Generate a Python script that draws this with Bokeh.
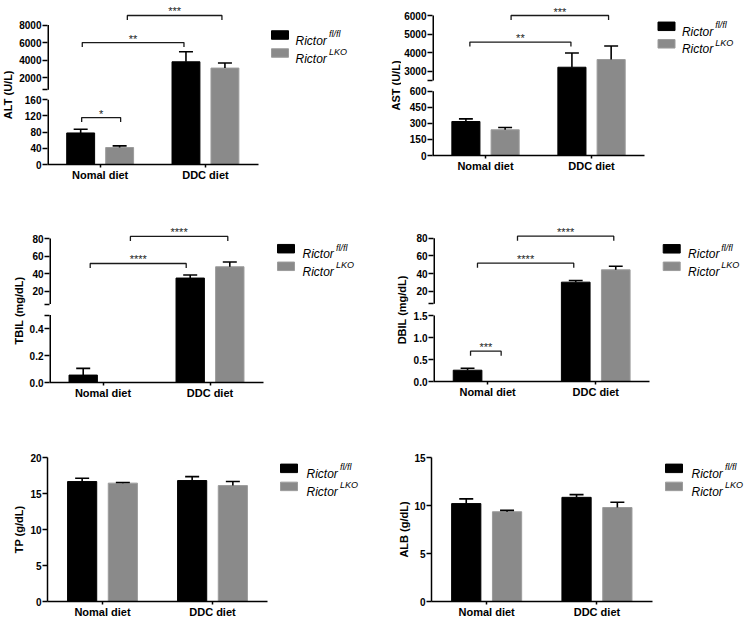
import math
from bokeh.plotting import figure
from bokeh.models import Range1d, FixedTicker, CustomJSTickFormatter, ColumnDataSource
from bokeh.layouts import row, column
from bokeh.embed import file_html
from bokeh.resources import INLINE
from bokeh.core.properties import value

FONT = "Liberation Sans"

# ---------------- data ----------------
groups = ["Nomal diet", "DDC diet"]
legend_base = "Rictor"
legend_sup = ["fl/fl", "LKO"]

alt_fl, alt_fl_err = [78, 3800], [9, 1150]
alt_lko, alt_lko_err = [42, 3080], [4, 575]
ast_fl, ast_fl_err = [317, 3215], [25, 765]
ast_lko, ast_lko_err = [240, 3630], [21, 725]
tbil_fl, tbil_fl_err = [0.055, 35.2], [0.05, 3.4]
tbil_lko, tbil_lko_err = [0.0, 48.0], [0.0, 5.3]
dbil_fl, dbil_fl_err = [0.257, 30.2], [0.045, 1.9]
dbil_lko, dbil_lko_err = [0.0, 44.2], [0.0, 4.1]
tp_fl, tp_fl_err = [16.66, 16.8], [0.46, 0.54]
tp_lko, tp_lko_err = [16.44, 16.1], [0.08, 0.56]
alb_fl, alb_fl_err = [10.2, 10.85], [0.49, 0.28]
alb_lko, alb_lko_err = [9.35, 9.79], [0.14, 0.55]

alt_ticks = [0, 40, 80, 120, 160, 2000, 4000, 6000, 8000]
alt_tick_labels = ["0", "40", "80", "120", "160", "2000", "4000", "6000", "8000"]
ast_ticks = [0, 150, 300, 450, 600, 3000, 4000, 5000, 6000]
ast_tick_labels = ["0", "150", "300", "450", "600", "3000", "4000", "5000", "6000"]
tbil_ticks = [0, 0.2, 0.4, 20, 40, 60, 80]
tbil_tick_labels = ["0.0", "0.2", "0.4", "20", "40", "60", "80"]
dbil_ticks = [0, 0.5, 1.0, 1.5, 20, 40, 60, 80]
dbil_tick_labels = ["0.0", "0.5", "1.0", "1.5", "20", "40", "60", "80"]
tp_ticks = [0, 5, 10, 15, 20]
tp_tick_labels = ["0", "5", "10", "15", "20"]
alb_ticks = [0, 5, 10, 15]
alb_tick_labels = ["0", "5", "10", "15"]

# significance brackets: (group_a, series_a, group_b, series_b, height value, label)
alt_sig = [(0, 0, 0, 1, 116, "*"), (0, 0, 1, 0, 6000, "**"), (0, 1, 1, 1, 9100, "***")]
ast_sig = [(0, 0, 1, 0, 4570, "**"), (0, 1, 1, 1, 6000, "***")]
tbil_sig = [(0, 0, 1, 0, 51.7, "****"), (0, 1, 1, 1, 82.3, "****")]
dbil_sig = [(0, 0, 0, 1, 0.69, "***"), (0, 0, 1, 0, 51.7, "****"), (0, 1, 1, 1, 82.3, "****")]

# ---------------- style / layout ----------------
BAR_FILL = ["#000000", "#8a8a8a"]
BAR_LINE = ["#000000", "#9c9c9c"]
OFF = 0.185
BAR_W = 0.265
CAP_PX = 7.0

panels = [
    dict(name="ALT (U/L)", fl=alt_fl, fle=alt_fl_err, lko=alt_lko, lkoe=alt_lko_err,
         ticks=alt_ticks, tlabels=alt_tick_labels, sig=alt_sig,
         nudge=[(1, 1), (1.6, -2), (7.7, -3)],
         brk=(160, 64.7, 10.0, 592, 8000, 64.7), ymax=None,
         left=0, top=0, LW=16, W=364, H=205, mbl=31, mbt=0, mbb=41, sp=105.3,
         lab_x=7.5, leg_x=271, leg_y=[34.5, 52.5], leg_tx=295),
    dict(name="AST (U/L)", fl=ast_fl, fle=ast_fl_err, lko=ast_lko, lkoe=ast_lko_err,
         ticks=ast_ticks, tlabels=ast_tick_labels, sig=ast_sig,
         nudge=[(4, -1), (6, -2.6)],
         brk=(600, 64.3, 10.7, 2500, 6000, 65.0), ymax=None,
         left=380, top=0, LW=21, W=345, H=205, mbl=29, mbt=0, mbb=50, sp=106.7,
         lab_x=395.0, leg_x=657, leg_y=[25.8, 43.3], leg_tx=681),
    dict(name="TBIL (mg/dL)", fl=tbil_fl, fle=tbil_fl_err, lko=tbil_lko, lkoe=tbil_lko_err,
         ticks=tbil_ticks, tlabels=tbil_tick_labels, sig=tbil_sig,
         nudge=[(7, -4), (7.6, -2)],
         brk=(0.5, 67.5, 10.9, 5.7, 80, 65.6), ymax=None,
         left=0, top=205, LW=26, W=354, H=210, mbl=23, mbt=0, mbb=33, sp=107.0,
         lab_x=18.3, leg_x=277, leg_y=[248.2, 265.8], leg_tx=302),
    dict(name="DBIL (mg/dL)", fl=dbil_fl, fle=dbil_fl_err, lko=dbil_lko, lkoe=dbil_lko_err,
         ticks=dbil_ticks, tlabels=dbil_tick_labels, sig=dbil_sig,
         nudge=[(3, -6.5), (10, -2), (10, -2)],
         brk=(1.5, 66.0, 11.7, 5.7, 80, 65.6), ymax=None,
         left=380, top=205, LW=30, W=336, H=210, mbl=20, mbt=0, mbb=34, sp=109.2,
         lab_x=401.7, leg_x=662, leg_y=[248.3, 265.8], leg_tx=687),
    dict(name="TP (g/dL)", fl=tp_fl, fle=tp_fl_err, lko=tp_lko, lkoe=tp_lko_err,
         ticks=tp_ticks, tlabels=tp_tick_labels, sig=[], nudge=[],
         brk=None, ymax=20,
         left=0, top=415, LW=27, W=353, H=205, mbl=20, mbt=42, mbb=17, sp=110.0,
         lab_x=18.7, leg_x=280, leg_y=[468, 486.3], leg_tx=306),
    dict(name="ALB (g/dL)", fl=alb_fl, fle=alb_fl_err, lko=alb_lko, lkoe=alb_lko_err,
         ticks=alb_ticks, tlabels=alb_tick_labels, sig=[], nudge=[],
         brk=None, ymax=15,
         left=380, top=415, LW=31, W=335, H=205, mbl=20, mbt=42, mbb=17, sp=110.3,
         lab_x=403.8, leg_x=665, leg_y=[468, 486.3], leg_tx=691),
]


def make_map(brk):
    if brk is None:
        return lambda v: v
    lo_top, lo_px, gap, hi0, hi_top, hi_px = brk

    def f(v):
        if v <= lo_top:
            return v * lo_px / lo_top
        if v >= hi0:
            return lo_px + gap + (v - hi0) * hi_px / (hi_top - hi0)
        return lo_px + gap * (v - lo_top) / (hi0 - lo_top)
    return f


def bar_x(g, s):
    return g + (-OFF if s == 0 else OFF)


def base_fig(W, H, xr, yr, mbl, mbt, mbb):
    p = figure(width=W, height=H, x_range=xr, y_range=yr,
               output_backend="svg", toolbar_location=None,
               min_border_left=mbl, min_border_right=0, min_border_top=mbt, min_border_bottom=mbb)
    p.outline_line_color = None
    p.xgrid.visible = False
    p.ygrid.visible = False
    p.background_fill_color = "white"
    p.border_fill_color = "white"
    return p


def make_panel(P):
    f = make_map(P["brk"])
    W, H, mbl, mbt, mbb, sp = P["W"], P["H"], P["mbl"], P["mbt"], P["mbb"], P["sp"]
    fw = W - mbl
    fh = H - mbt - mbb
    x_end = -0.5 + fw / sp
    if P["brk"] is None:
        ytop = P["ymax"]
        ppu = fh / ytop
    else:
        ytop = fh
        ppu = 1.0
    main_left = P["left"] + P["LW"]
    axis_x = main_left + mbl
    axis_y = P["top"] + mbt + fh

    def px_x(page_x):
        return -0.5 + (page_x - axis_x) / sp

    def px_y(page_y):
        return (axis_y - page_y) / ppu

    p = base_fig(W, H, Range1d(-0.5, x_end), Range1d(0, ytop), mbl, mbt, mbb)

    # bars
    xs, tops, fills, lines = [], [], [], []
    ex, et, eu = [], [], []
    for s, (means, errs) in enumerate([(P["fl"], P["fle"]), (P["lko"], P["lkoe"])]):
        for g in range(2):
            x = bar_x(g, s)
            xs.append(x)
            tops.append(f(means[g]))
            fills.append(BAR_FILL[s])
            lines.append(BAR_LINE[s])
            if errs[g] > 0:
                ex.append(x)
                et.append(f(means[g]))
                eu.append(f(means[g] + errs[g]))
    src = ColumnDataSource(dict(x=xs, top=tops, fill=fills, line=lines))
    p.vbar(x="x", top="top", bottom=0, width=BAR_W, fill_color="fill", line_color="line",
           line_width=1, source=src)
    hw = CAP_PX / sp
    esrc = ColumnDataSource(dict(x=ex, t=et, u=eu, xl=[v - hw for v in ex], xr=[v + hw for v in ex]))
    p.segment(x0="x", y0="t", x1="x", y1="u", line_color="black", line_width=1.6, source=esrc)
    p.segment(x0="xl", y0="u", x1="xr", y1="u", line_color="black", line_width=1.6, source=esrc)

    # significance brackets
    bxs, bys, tx, ty, tt = [], [], [], [], []
    for (ga, sa, gb, sb, h, lab), (n1, n2) in zip(P["sig"], P["nudge"]):
        x1 = bar_x(ga, sa) + n1 / sp
        x2 = bar_x(gb, sb) + n2 / sp
        yb = f(h)
        bxs.append([x1, x1, x2, x2])
        bys.append([yb - 4.5, yb, yb, yb - 4.5])
        tx.append((x1 + x2) / 2)
        ty.append(yb + 4)
        tt.append(lab)
    if bxs:
        p.multi_line(xs=bxs, ys=bys, line_color="#1a1a1a", line_width=1.3)
        p.text(x=tx, y=ty, text=tt, text_align="center", text_baseline="alphabetic",
               text_font=value(FONT), text_font_size="11px", text_color="#1a1a1a")

    # x axis
    xa = p.xaxis[0]
    xa.ticker = FixedTicker(ticks=[0, 1])
    xa.formatter = CustomJSTickFormatter(args=dict(labs=groups),
                                         code="return labs[Math.round(tick)];")
    xa.bounds = (-0.5, 1.5)
    xa.axis_line_width = 1.5
    xa.axis_line_color = "black"
    xa.major_tick_line_width = 1.5
    xa.major_tick_out = 3
    xa.major_tick_in = 0
    xa.minor_tick_line_color = None
    xa.major_label_standoff = 1
    xa.major_label_text_font = FONT
    xa.major_label_text_font_style = "bold"
    xa.major_label_text_font_size = "11px"
    xa.major_label_text_color = "black"

    # y axis
    ya = p.yaxis[0]
    pos = [f(t) for t in P["ticks"]]
    labs = list(P["tlabels"])
    if P["brk"] is not None:
        lo_top, lo_px, gap, hi0, hi_top, hi_px = P["brk"]
        if lo_top not in P["ticks"]:
            pos.append(f(lo_top))
            labs.append("")
        pos.append(f(hi0))
        labs.append("")
        ya.axis_line_color = None
        p.segment(x0=[-0.5, -0.5], y0=[0, f(hi0)], x1=[-0.5, -0.5], y1=[f(lo_top), f(hi_top)],
                  line_color="black", line_width=3)
        yaxis_top = f(hi_top)
    else:
        ya.bounds = (0, P["ymax"])
        ya.axis_line_width = 1.5
        ya.axis_line_color = "black"
        yaxis_top = P["ymax"]
    ya.ticker = FixedTicker(ticks=pos)
    ya.formatter = CustomJSTickFormatter(args=dict(pos=pos, labs=labs), code="""
        for (let i = 0; i < pos.length; i++) {
            if (Math.abs(tick - pos[i]) < 1e-6) { return labs[i]; }
        }
        return "";
    """)
    ya.major_tick_line_width = 1.5
    ya.major_tick_out = 5
    ya.major_tick_in = 0
    ya.minor_tick_line_color = None
    ya.major_label_standoff = 1
    ya.major_label_text_font = FONT
    ya.major_label_text_font_style = "bold"
    ya.major_label_text_font_size = "10px"
    ya.major_label_text_color = "black"

    # legend
    for i in range(2):
        cy = P["leg_y"][i]
        p.rect(x=[px_x(P["leg_x"] + 8.5)], y=[px_y(cy)], width=17, height=8.5,
               width_units="screen", height_units="screen",
               fill_color=BAR_FILL[i], line_color=BAR_LINE[i], line_width=1)
        p.text(x=[px_x(P["leg_tx"])], y=[px_y(cy + 5.5)], text=[legend_base],
               text_font=value(FONT), text_font_style="italic", text_font_size="12px",
               text_baseline="alphabetic", text_color="black")
        p.text(x=[px_x(P["leg_tx"] + 33.5)], y=[px_y(cy - 1.2)], text=[legend_sup[i]],
               text_font=value(FONT), text_font_style="italic", text_font_size="9px",
               text_baseline="alphabetic", text_color="black")

    # y-axis title, in a narrow strip sharing the panel's vertical scale
    LW = P["LW"]
    lf = base_fig(LW, H, Range1d(0, LW), Range1d(0, ytop), 0, mbt, mbb)
    lf.axis.visible = False
    lf.text(x=[P["lab_x"] - P["left"]], y=[yaxis_top / 2], text=[P["name"]],
            angle=math.pi / 2, text_align="center", text_baseline="middle",
            text_font=value(FONT), text_font_style="bold", text_font_size="11px",
            text_color="black")
    return column(row(lf, p))


figs = [make_panel(P) for P in panels]
layout = column(row(figs[0], figs[1]), row(figs[2], figs[3]), row(figs[4], figs[5]))

open("out.html", "w").write(file_html(layout, INLINE))
